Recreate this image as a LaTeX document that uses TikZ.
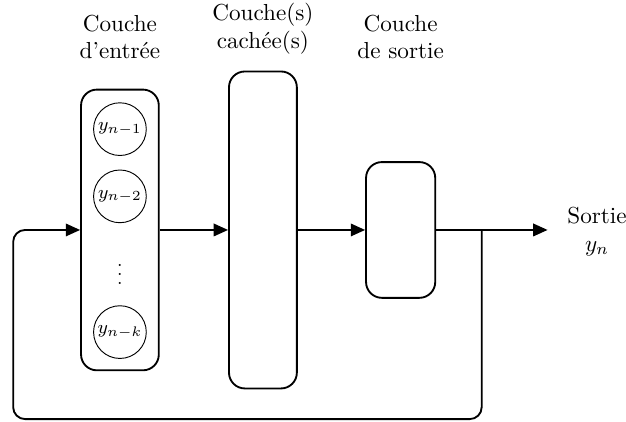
\documentclass[tikz,border=0pt]{standalone}
\usetikzlibrary{arrows.meta}

\begin{document}
\begin{tikzpicture}[
      box/.style={
        draw, rounded corners=0.24cm, thick, minimum width=1.05cm
      },
      neuron/.style={
        draw, circle, minimum size=0.80cm, inner sep=0pt, font=\footnotesize
      },
      title/.style={
        align=center
      },
      arrow/.style={
        thick, -{Triangle[length=6.2pt, width=5.4pt]}
      }
    ]
    \useasboundingbox (0,0) rectangle (9.50,6.39);

    \node[title] (tin) at (1.82,5.83) {Couche\\d'entrée};
    \node[title] (thid) at (3.99,5.95) {Couche(s)\\cachée(s)};
    \node[title] (tout) at (6.08,5.83) {Couche\\de sortie};

    \node[box, minimum width=1.18cm, minimum height=4.26cm] (input) at (1.82,2.90) {};
    \node[neuron] (y1) at (1.82,4.43) {$y_{n-1}$};
    \node[neuron] (y2) at (1.82,3.41) {$y_{n-2}$};
    \node[font=\footnotesize] (dots) at (1.82,2.33) {$\vdots$};
    \node[neuron] (yk) at (1.82,1.35) {$y_{n-k}$};

    \node[box, minimum width=1.03cm, minimum height=4.81cm] (hidden) at (3.99,2.90) {};
    \node[box, minimum height=2.06cm] (output) at (6.08,2.90) {};

    \node[title] (sortie) at (9.06,2.88) {Sortie\\$y_n$};

    \coordinate (branch) at (7.31,2.90);
    \coordinate (end) at (8.31,2.90);
    \coordinate (back) at (0.20,0.03);

    \draw[arrow] (input) -- (hidden);
    \draw[arrow] (hidden) -- (output);
    \draw[arrow] (output) -- (end);
    \draw[arrow, rounded corners=0.18cm] (branch) |- (back) |- (input.west);
  \end{tikzpicture}
\end{document}
